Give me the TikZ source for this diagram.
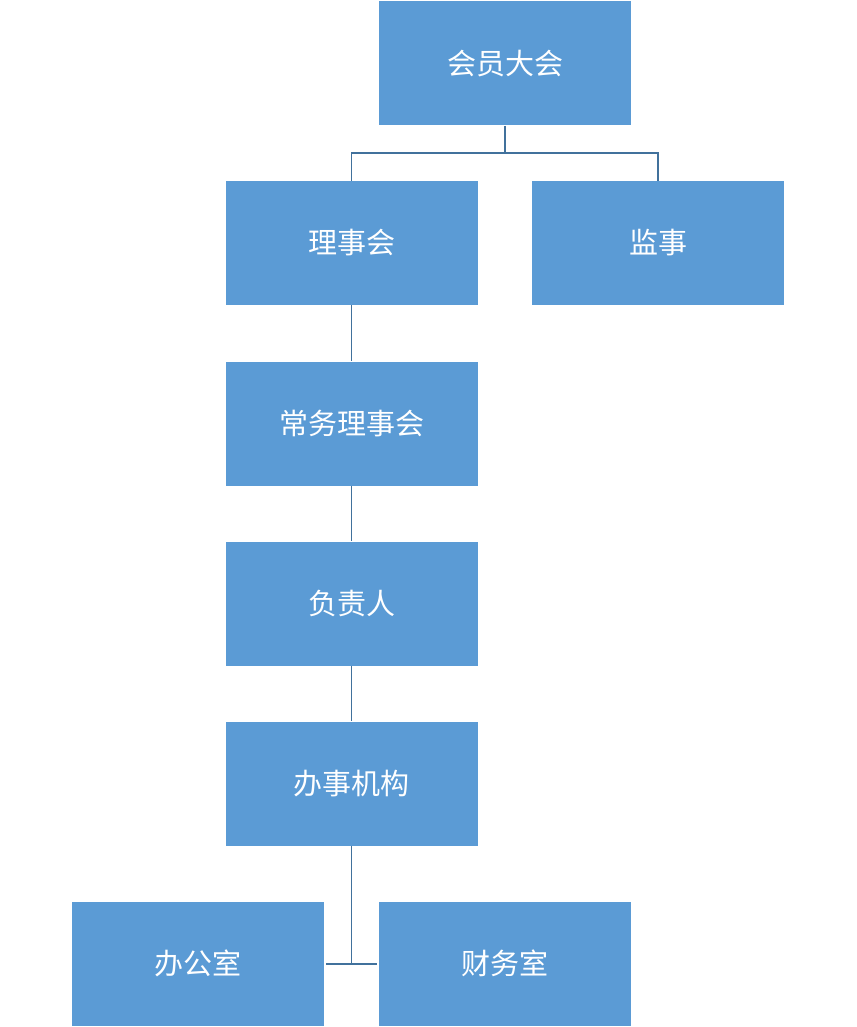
\documentclass[tikz,border=0pt]{standalone}
\usepackage{fontspec}
\newfontfamily\cjk{Noto Sans CJK SC}
\definecolor{boxfill}{HTML}{5B9BD5}
\definecolor{linec}{HTML}{41719C}
\begin{document}
\begin{tikzpicture}[x=1pt,y=-1pt,
  box/.style={fill=boxfill,draw=none,minimum width=252pt,minimum height=124pt,inner sep=0pt,text=white,font=\cjk\fontsize{29}{32}\selectfont},
  conn/.style={draw=linec,line width=1.5pt}]
\useasboundingbox (0,0) rectangle (856,1027);
\node[box] (hy) at (505,63.5) {会员大会};
\node[box] (lsh) at (351.5,243) {理事会};
\node[box] (js) at (658,243) {监事};
\node[box] (cw) at (351.5,423.5) {常务理事会};
\node[box] (fzr) at (351.5,603.5) {负责人};
\node[box] (bs) at (351.5,783.5) {办事机构};
\node[box] (bgs) at (198,963.5) {办公室};
\node[box] (cws) at (505,963.5) {财务室};
\coordinate (j1) at (505,153);
\coordinate (j2) at (351.5,964);
\draw[conn] (hy.south) -- (j1);
\draw[conn] (lsh.north) |- (j1) -| (js.north);
\draw[conn] (lsh.south) -- (cw.north);
\draw[conn] (cw.south) -- (fzr.north);
\draw[conn] (fzr.south) -- (bs.north);
\draw[conn] (bs.south) -- (j2);
\draw[conn] ([xshift=2pt]bgs.east |- j2) -- ([xshift=-2pt]cws.west |- j2);
\end{tikzpicture}
\end{document}
